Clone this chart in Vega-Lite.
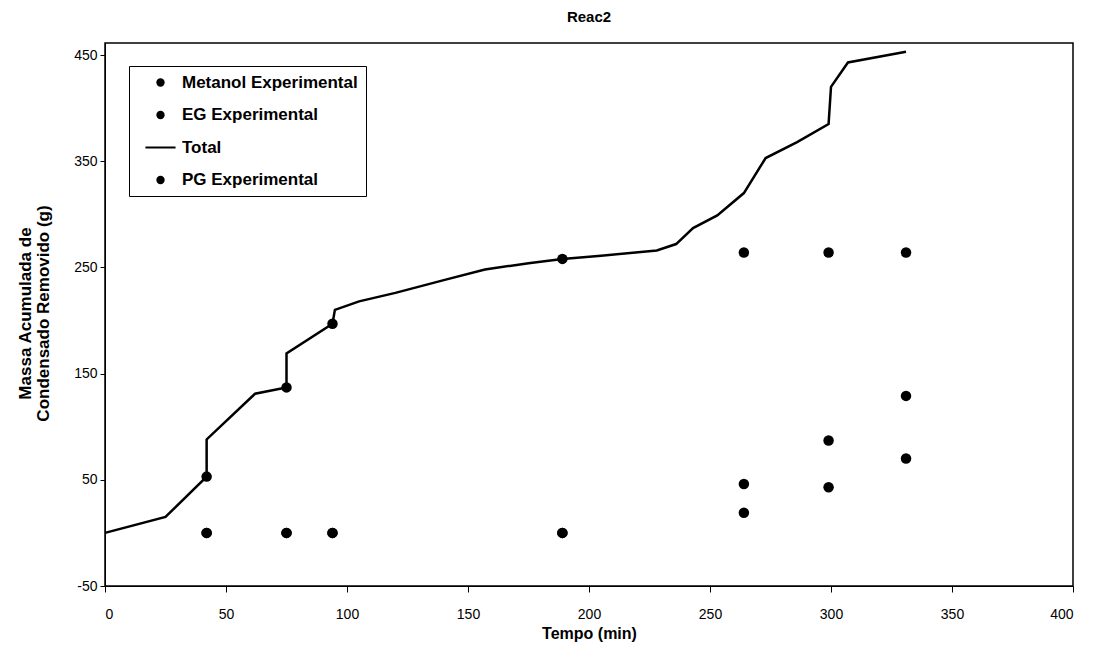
{
  "$schema": "https://vega.github.io/schema/vega-lite/v6.json",
  "autosize": "none",
  "width": 968,
  "height": 543,
  "padding": {"left": 105, "top": 43, "right": 28, "bottom": 68},
  "background": "white",
  "config": {
    "font": "Liberation Sans",
    "view": {"stroke": "black", "strokeWidth": 1.5},
    "axis": {
      "grid": false,
      "domainColor": "black",
      "tickColor": "black",
      "labelColor": "black",
      "titleColor": "black",
      "labelFont": "Liberation Sans",
      "titleFont": "Liberation Sans",
      "labelFontSize": 14,
      "tickSize": 6
    }
  },
  "title": {
    "text": "Reac2",
    "font": "Liberation Sans",
    "fontSize": 15,
    "fontWeight": "bold",
    "color": "black",
    "anchor": "middle",
    "offset": 18
  },
  "datasets": {
    "total": [
      {"t": 0, "m": 0},
      {"t": 25, "m": 15},
      {"t": 42, "m": 53},
      {"t": 42, "m": 88},
      {"t": 62, "m": 131},
      {"t": 75, "m": 137},
      {"t": 75, "m": 169},
      {"t": 94, "m": 197},
      {"t": 95, "m": 210},
      {"t": 105, "m": 218},
      {"t": 120, "m": 226},
      {"t": 140, "m": 238},
      {"t": 157, "m": 248},
      {"t": 175, "m": 254},
      {"t": 189, "m": 258},
      {"t": 205, "m": 261},
      {"t": 228, "m": 266},
      {"t": 236, "m": 272},
      {"t": 243, "m": 287},
      {"t": 253, "m": 299},
      {"t": 264, "m": 320},
      {"t": 273, "m": 353},
      {"t": 286, "m": 368},
      {"t": 299, "m": 385},
      {"t": 300, "m": 420},
      {"t": 307, "m": 443},
      {"t": 331, "m": 453}
    ],
    "pontos": [
      {"t": 42, "m": 53, "serie": "Metanol Experimental"},
      {"t": 75, "m": 137, "serie": "Metanol Experimental"},
      {"t": 94, "m": 197, "serie": "Metanol Experimental"},
      {"t": 189, "m": 258, "serie": "Metanol Experimental"},
      {"t": 264, "m": 264, "serie": "Metanol Experimental"},
      {"t": 299, "m": 264, "serie": "Metanol Experimental"},
      {"t": 331, "m": 264, "serie": "Metanol Experimental"},
      {"t": 42, "m": 0, "serie": "EG Experimental"},
      {"t": 75, "m": 0, "serie": "EG Experimental"},
      {"t": 94, "m": 0, "serie": "EG Experimental"},
      {"t": 189, "m": 0, "serie": "EG Experimental"},
      {"t": 264, "m": 19, "serie": "EG Experimental"},
      {"t": 299, "m": 43, "serie": "EG Experimental"},
      {"t": 331, "m": 70, "serie": "EG Experimental"},
      {"t": 42, "m": 0, "serie": "PG Experimental"},
      {"t": 75, "m": 0, "serie": "PG Experimental"},
      {"t": 94, "m": 0, "serie": "PG Experimental"},
      {"t": 189, "m": 0, "serie": "PG Experimental"},
      {"t": 264, "m": 46, "serie": "PG Experimental"},
      {"t": 299, "m": 87, "serie": "PG Experimental"},
      {"t": 331, "m": 129, "serie": "PG Experimental"}
    ]
  },
  "encoding": {
    "x": {
      "field": "t",
      "type": "quantitative",
      "scale": {"domain": [0, 400], "nice": false, "zero": false},
      "axis": {
        "values": [0, 50, 100, 150, 200, 250, 300, 350, 400],
        "title": "Tempo (min)",
        "titleFontSize": 16,
        "titleFontWeight": "bold",
        "labelPadding": 15,
        "titlePadding": 4
      }
    },
    "y": {
      "field": "m",
      "type": "quantitative",
      "scale": {"domain": [-50, 461.3], "nice": false, "zero": false},
      "axis": {
        "values": [-50, 50, 150, 250, 350, 450],
        "labelExpr": "'' + datum.value",
        "title": ["Massa Acumulada de", "Condensado Removido (g)"],
        "titleFontSize": 17,
        "titleFontWeight": "bold",
        "titleAngle": -90,
        "titleAlign": "center",
        "titleBaseline": "top",
        "titleLineHeight": 18,
        "titleX": -88,
        "titleY": 270,
        "labelPadding": 3,
        "tickSize": 5
      }
    }
  },
  "layer": [
    {
      "data": {"name": "total"},
      "mark": {"type": "line", "color": "black", "strokeWidth": 2.5, "strokeJoin": "miter"}
    },
    {
      "data": {"name": "pontos"},
      "mark": {"type": "point", "filled": true, "color": "black", "opacity": 1, "size": 110},
      "encoding": {
        "shape": {
          "field": "serie",
          "type": "nominal",
          "scale": {
            "domain": ["Metanol Experimental", "EG Experimental", "Total", "PG Experimental"],
            "range": ["circle", "circle", "M-3.6,-0.24H3.6V0.24H-3.6Z", "circle"]
          },
          "legend": {
            "title": null,
            "orient": "none",
            "legendX": 24,
            "legendY": 23,
            "direction": "vertical",
            "strokeColor": "black",
            "fillColor": "white",
            "padding": 8,
            "rowPadding": 14.5,
            "symbolOffset": 15,
            "symbolFillColor": "black",
            "symbolSize": 70,
            "labelFont": "Liberation Sans",
            "labelFontSize": 17,
            "labelFontWeight": "bold",
            "labelColor": "black",
            "labelOffset": 13,
            "labelLimit": 300,
            "encode": {
              "symbols": {
                "update": {
                  "fill": {"value": "black"},
                  "strokeWidth": {"value": 0},
                  "opacity": {"value": 1}
                }
              }
            }
          }
        }
      }
    }
  ]
}
